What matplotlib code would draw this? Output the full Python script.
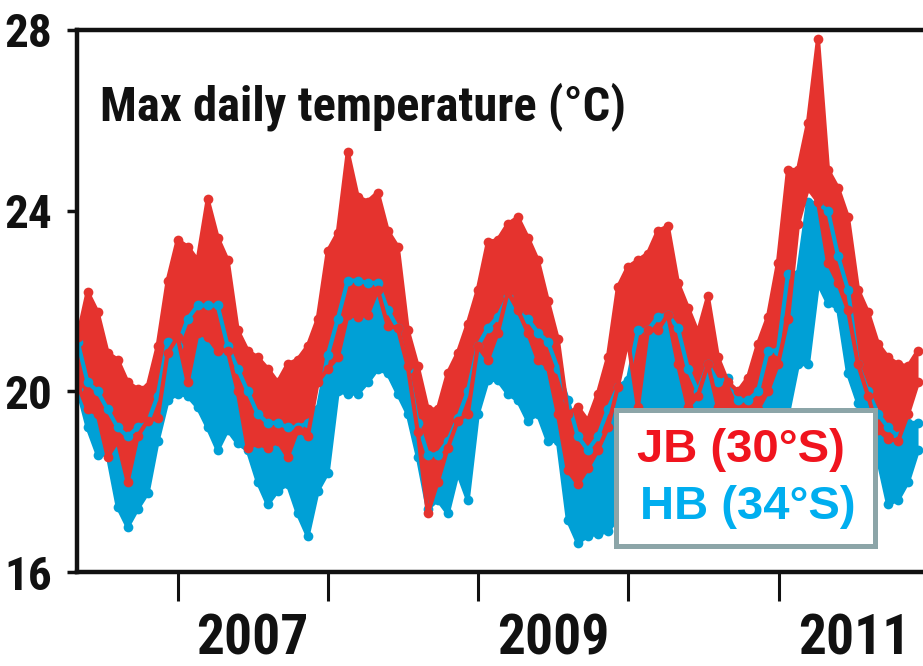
import numpy as np
import matplotlib.pyplot as plt
from matplotlib.patches import Rectangle

# sample dates (decimal years), roughly every 24 days from May 2006 to Dec 2011
years = np.linspace(2006.334, 2011.927, 85)

# JB (30°S): upper / lower edge of the daily max temperature cloud
jb_hi = [21.2, 22.2, 21.75, 20.85, 20.7, 20.2, 20.05, 20.1, 21.0, 22.45,
         23.35, 23.2, 22.9, 24.25, 23.4, 22.9, 21.35, 20.9, 20.75, 20.5,
         20.2, 20.6, 20.7, 21.0, 21.6, 23.1, 23.5, 25.3, 24.3, 24.2,
         24.4, 23.55, 23.2, 21.35, 20.55, 19.6, 19.6, 20.4, 20.85, 21.5,
         22.25, 23.3, 23.35, 23.7, 23.85, 23.4, 22.9, 22.0, 21.15, 19.5,
         19.65, 19.35, 19.95, 20.75, 22.3, 22.75, 22.9, 23.05, 23.55, 23.65,
         22.4, 21.85, 21.3, 22.1, 20.75, 20.2, 20.0, 20.3, 21.05, 21.65,
         22.85, 24.9, 24.9, 25.95, 27.8, 24.9, 24.5, 23.85, 22.25, 21.75,
         21.05, 20.75, 20.6, 20.55, 20.9]
jb_lo = [20.15, 19.6, 19.5, 18.55, 18.9, 18.0, 19.0, 19.35, 19.4, 20.85,
         21.2, 20.2, 21.3, 21.2, 20.9, 20.9, 20.0, 18.75, 18.85, 18.75,
         18.9, 18.55, 19.15, 19.0, 20.2, 20.5, 20.75, 21.7, 21.65, 21.7,
         22.25, 21.45, 21.4, 20.55, 19.1, 17.3, 18.0, 18.75, 19.35, 19.5,
         21.0, 20.7, 21.3, 22.2, 21.8, 21.3, 20.7, 20.55, 19.5, 18.25,
         17.95, 18.3, 18.7, 19.2, 20.1, 21.15, 19.65, 21.35, 21.35, 21.7,
         20.6, 19.65, 19.9, 20.6, 19.65, 19.5, 19.4, 19.4, 19.6, 20.0,
         20.6, 21.6, 23.7, 24.5, 24.2, 22.85, 22.4, 21.8, 20.6, 19.9,
         19.15, 18.95, 18.9, 19.5, 20.2]

# HB (34°S)
hb_hi = [21.1, 20.2, 20.0, 19.6, 19.2, 19.0, 19.2, 19.3, 19.9, 21.1,
         21.0, 21.6, 21.9, 21.9, 21.9, 21.0, 20.5, 20.0, 19.5, 19.3,
         19.3, 19.2, 19.2, 19.3, 19.6, 20.8, 21.6, 22.45, 22.45, 22.4,
         22.4, 21.8, 21.4, 20.5, 19.3, 18.6, 18.6, 18.9, 19.4, 20.0,
         21.0, 21.4, 21.65, 22.1, 21.75, 21.6, 21.3, 21.1, 20.5, 19.8,
         19.0, 18.7, 19.0, 19.6, 20.1, 20.25, 21.35, 21.35, 21.65, 21.7,
         21.4, 20.5, 20.0, 20.6, 20.2, 20.3, 19.8, 19.8, 20.0, 20.9,
         20.9, 22.6, 22.6, 24.2, 24.15, 24.0, 23.0, 22.25, 20.6, 20.0,
         19.5, 19.2, 19.0, 19.3, 19.3]
hb_lo = [20.05, 19.2, 18.6, 18.6, 17.45, 17.0, 17.4, 17.75, 18.9, 19.8,
         19.95, 19.9, 19.65, 19.2, 18.7, 19.15, 18.85, 18.7, 18.0, 17.5,
         17.8, 17.95, 17.3, 16.8, 17.8, 18.2, 20.0, 19.95, 19.95, 20.2,
         20.5, 20.4, 19.95, 19.5, 18.55, 17.4, 17.6, 17.3, 18.2, 17.6,
         19.5, 20.25, 20.25, 19.95, 19.8, 19.35, 19.5, 18.9, 18.9, 17.15,
         16.65, 16.8, 16.85, 16.9, 17.2, 17.8, 18.5, 19.0, 19.2, 19.3,
         19.0, 18.6, 18.3, 18.5, 18.2, 18.0, 17.8, 17.7, 18.0, 18.5,
         19.0, 19.5, 20.6, 20.6, 22.4, 21.95, 21.85, 20.4, 19.75, 19.0,
         18.5, 17.5, 17.6, 18.0, 18.7]

yticks = [16, 20, 24, 28]
year_ticks = [2007, 2008, 2009, 2010, 2011]
year_labels = ['2007', '2009', '2011']

red = '#e5332e'
blue = '#00a0d6'
narrow = ['Roboto Condensed', 'PT Sans Narrow', 'DejaVu Sans']
plain = ['Liberation Sans', 'DejaVu Sans']

fig = plt.figure(figsize=(9.23, 6.66), dpi=100)
ax = fig.add_axes([0.0834, 0.1411, 0.9166, 0.814])

for lo, hi, c in ((hb_lo, hb_hi, blue), (jb_lo, jb_hi, red)):
    ax.fill_between(years, lo, hi, color=c, lw=0)
    for s in (lo, hi):
        ax.plot(years, s, color=c, lw=3, marker='o', ms=7, mew=0,
                solid_joinstyle='round', solid_capstyle='round')

ax.set_xlim(2006.33, 2011.96)
ax.set_ylim(16, 28)

for side in ('left', 'bottom', 'top'):
    ax.spines[side].set_linewidth(3.2)
    ax.spines[side].set_color('#111111')
ax.spines['right'].set_visible(False)

ax.set_yticks(yticks)
ax.set_yticklabels([str(v) for v in yticks], family=narrow,
                   fontweight='bold', fontsize=34, color='#111111')
ax.tick_params(axis='y', length=7, width=2.5, pad=11, color='#111111')

ax.set_xticks(year_ticks)
ax.set_xticklabels([])
ax.set_xticks([int(y) + 0.5 for y in year_labels], minor=True)
ax.set_xticklabels(year_labels, minor=True, family=narrow,
                   fontweight='bold', fontsize=40, color='#111111')
ax.tick_params(axis='x', which='major', length=21, width=2.2, color='#111111')
ax.tick_params(axis='x', which='minor', length=0, pad=30)

ax.text(0.027, 0.834, 'Max daily temperature (°C)', transform=ax.transAxes,
        family=narrow, fontweight='bold', fontsize=35, color='#111111',
        va='baseline', ha='left')

ax.add_patch(Rectangle((0.6375, 0.0489), 0.3052, 0.2491, transform=ax.transAxes,
                       facecolor='white', edgecolor='#8ca5a8', lw=3.6, zorder=5))
ax.text(0.662, 0.225, 'JB (30°S)', transform=ax.transAxes, color='#f0141e',
        fontsize=34, fontweight='bold', family=plain,
        va='center', ha='left', zorder=6)
ax.text(0.665, 0.12, 'HB (34°S)', transform=ax.transAxes, color='#00aeef',
        fontsize=34, fontweight='bold', family=plain,
        va='center', ha='left', zorder=6)

fig.savefig('out.png', dpi=100)
